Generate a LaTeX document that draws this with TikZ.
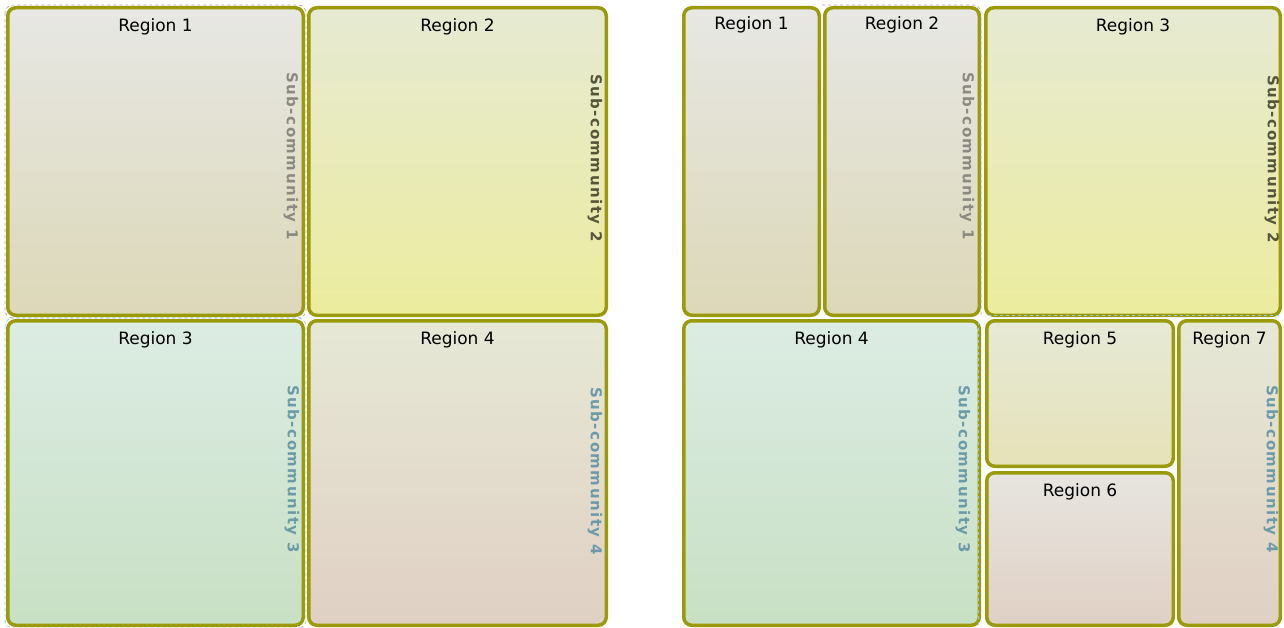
\documentclass[tikz,border=0pt]{standalone}
\usepackage{fontspec}
\setmainfont{DejaVu Sans}
\newfontfamily\tagfont[LetterSpace=10]{DejaVu Sans}

\definecolor{rimolive}{RGB}{154,154,10}
\definecolor{greytop}{RGB}{231,231,228}
\definecolor{greybot}{RGB}{220,216,184}
\definecolor{yeltop}{RGB}{230,234,210}
\definecolor{yelbot}{RGB}{236,236,158}
\definecolor{mint}{RGB}{220,236,228}
\definecolor{greenbot}{RGB}{200,224,196}
\definecolor{paletop}{RGB}{230,232,214}
\definecolor{rosebot}{RGB}{224,208,196}
\definecolor{creamtop}{RGB}{230,233,214}
\definecolor{creambot}{RGB}{230,226,184}
\definecolor{ashtop}{RGB}{231,229,224}
\definecolor{tagGrey}{RGB}{138,138,128}
\definecolor{tagDark}{RGB}{85,85,58}
\definecolor{tagTeal}{RGB}{107,155,168}
\definecolor{dashGrey}{RGB}{170,170,165}
\definecolor{dashBlue}{RGB}{150,200,225}

\begin{document}
\begin{tikzpicture}[
		x=1pt, y=-1pt,
		region/.style={draw=rimolive, line width=3.5pt, rounded corners=8pt,
				anchor=north west, inner sep=0pt},
		regtitle/.style={font=\fontsize{17}{19}\selectfont, inner sep=0pt},
		subtag/.style={font=\tagfont\bfseries\fontsize{15}{17}\selectfont,
				rotate=-90, anchor=west, inner sep=0pt},
		subline/.style={dashed, line width=0.7pt, rounded corners=8pt}
	]
	\useasboundingbox (0,0) rectangle (1284,628);

	% left layout
	\node[region, top color=greytop, bottom color=greybot,
		minimum width=295.5pt, minimum height=307.5pt] (l1) at (6,6) {};
	\node[region, top color=yeltop, bottom color=yelbot,
		minimum width=297.5pt, minimum height=307.5pt] (l2) at (307,6) {};
	\node[region, top color=mint, bottom color=greenbot,
		minimum width=295.5pt, minimum height=304.5pt] (l3) at (6,319) {};
	\node[region, top color=paletop, bottom color=rosebot,
		minimum width=297.5pt, minimum height=304.5pt] (l4) at (307,319) {};

	\draw[subline, dashGrey] (5,5) rectangle (306,318);
	\draw[subline, dashBlue] (5,318) rectangle (306,628);

	\node[regtitle] (l1t) at ([yshift=-21pt]l1.north) {Region 1};
	\node[regtitle] (l2t) at ([yshift=-21pt]l2.north) {Region 2};
	\node[regtitle] (l3t) at ([yshift=-21pt]l3.north) {Region 3};
	\node[regtitle] (l4t) at ([yshift=-21pt]l4.north) {Region 4};

	\node[subtag, text=tagGrey] (ls1) at ([xshift=-14pt, yshift=-66pt]l1.north east) {Sub-community 1};
	\node[subtag, text=tagDark] (ls2) at ([xshift=-13pt, yshift=-68pt]l2.north east) {Sub-community 2};
	\node[subtag, text=tagTeal] (ls3) at ([xshift=-13pt, yshift=-66pt]l3.north east) {Sub-community 3};
	\node[subtag, text=tagTeal] (ls4) at ([xshift=-13pt, yshift=-68pt]l4.north east) {Sub-community 4};

	% right layout
	\node[region, top color=greytop, bottom color=greybot,
		minimum width=135.5pt, minimum height=307.5pt] (r1) at (682,6) {};
	\node[region, top color=greytop, bottom color=greybot,
		minimum width=154.5pt, minimum height=307.5pt] (r2) at (823,6) {};
	\node[region, top color=yeltop, bottom color=yelbot,
		minimum width=294.5pt, minimum height=307.5pt] (r3) at (984,6) {};
	\node[region, top color=mint, bottom color=greenbot,
		minimum width=295.5pt, minimum height=304.5pt] (r4) at (682,319) {};
	\node[region, top color=creamtop, bottom color=creambot,
		minimum width=186.5pt, minimum height=145.5pt] (r5) at (985,319) {};
	\node[region, top color=ashtop, bottom color=rosebot,
		minimum width=186.5pt, minimum height=152.5pt] (r6) at (985,471) {};
	\node[region, top color=paletop, bottom color=rosebot,
		minimum width=101.5pt, minimum height=304.5pt] (r7) at (1177,319) {};

	\draw[subline, dashGrey] (822,5) -- (981,5) -- (981,316);
	\draw[subline, dashBlue] (978,322) -- (978,625);
	\draw[subline, dashBlue] (988,315) -- (1279,315);

	\node[regtitle] (r1t) at ([yshift=-19pt]r1.north) {Region 1};
	\node[regtitle] (r2t) at ([yshift=-19pt]r2.north) {Region 2};
	\node[regtitle] (r3t) at ([yshift=-21pt]r3.north) {Region 3};
	\node[regtitle] (r4t) at ([yshift=-21pt]r4.north) {Region 4};
	\node[regtitle] (r5t) at ([yshift=-21pt]r5.north) {Region 5};
	\node[regtitle] (r6t) at ([yshift=-21pt]r6.north) {Region 6};
	\node[regtitle] (r7t) at ([yshift=-21pt]r7.north) {Region 7};

	\node[subtag, text=tagGrey] (rs1) at ([xshift=-14pt, yshift=-66pt]r2.north east) {Sub-community 1};
	\node[subtag, text=tagDark] (rs2) at ([xshift=-10pt, yshift=-69pt]r3.north east) {Sub-community 2};
	\node[subtag, text=tagTeal] (rs3) at ([xshift=-18pt, yshift=-66pt]r4.north east) {Sub-community 3};
	\node[subtag, text=tagTeal] (rs4) at ([xshift=-11pt, yshift=-66pt]r7.north east) {Sub-community 4};
\end{tikzpicture}
\end{document}
